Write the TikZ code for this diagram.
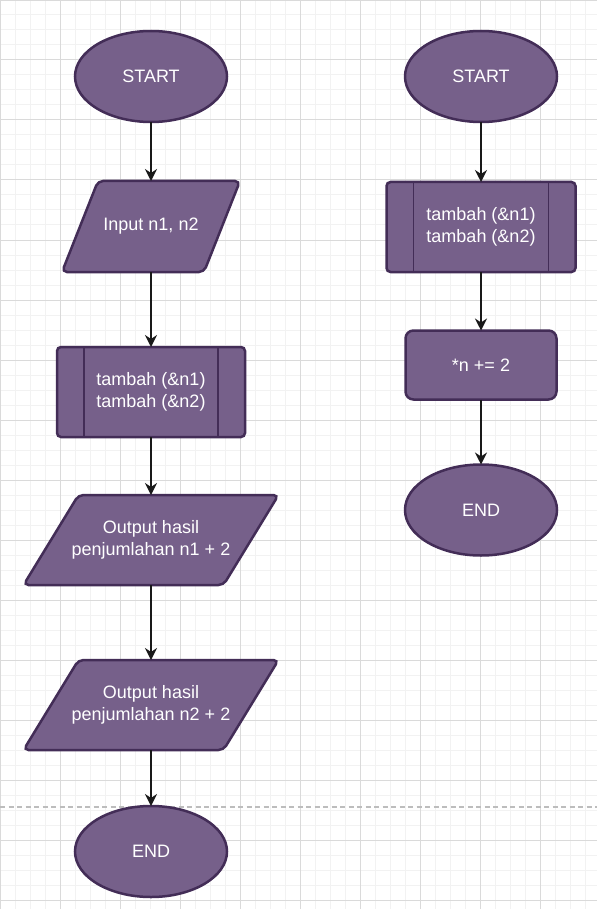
\documentclass[tikz,border=0pt]{standalone}
\usepackage{fontspec}
\setmainfont{Liberation Sans}
\usetikzlibrary{arrows.meta,shapes.geometric}
\definecolor{pfill}{HTML}{76608A}
\definecolor{pline}{HTML}{432D57}
\definecolor{gminor}{HTML}{F2F2F2}
\definecolor{gmajor}{HTML}{DADADA}
\definecolor{dashgray}{HTML}{BDBDBD}
\pgfdeclarelayer{gridlayer}
\pgfdeclarelayer{shapelayer}
\pgfsetlayers{gridlayer,shapelayer,main}
\newcommand\drawpara[2]{%
  \begin{pgfonlayer}{shapelayer}
    \draw[paraline] ([xshift=#2]#1.north west) -- (#1.north east) -- ([xshift=-#2]#1.south east) -- (#1.south west) -- cycle;
  \end{pgfonlayer}}
\newcommand\drawbars[1]{%
  \draw[innerline] ([xshift=27pt]#1.north west) -- ([xshift=27pt]#1.south west);
  \draw[innerline] ([xshift=-27pt]#1.north east) -- ([xshift=-27pt]#1.south east);}
\begin{document}
\begin{tikzpicture}[x=1pt,y=-1pt,
  base/.style={text=white, font=\fontsize{18}{21.6}\selectfont, align=center, inner sep=0pt, outer sep=0pt},
  terminal/.style={base, ellipse, draw=pline, fill=pfill, line width=2.5pt, minimum width=152pt, minimum height=91pt},
  iobox/.style={base, rectangle, minimum height=91pt},
  paraline/.style={draw=pline, fill=pfill, line width=2.5pt, rounded corners=5pt},
  procbox/.style={base, rectangle, rounded corners=4pt, draw=pline, fill=pfill, line width=2.5pt, minimum height=90pt},
  innerline/.style={draw=pline, line width=1.5pt},
  stepbox/.style={base, rectangle, rounded corners=8pt, draw=pline, fill=pfill, line width=2.5pt, minimum width=151pt, minimum height=69pt},
  arrow/.style={draw=black!90, line width=1.5pt, -{Stealth[length=12pt,width=12pt,inset=4pt]}},
]
\useasboundingbox (0,0) rectangle (597,909);
\begin{pgfonlayer}{gridlayer}
  \fill[white] (0,0) rectangle (597,909);
  \draw[gminor, line width=1pt] (0,0) grid[step=15pt] (597,909);
  \draw[gmajor, line width=1pt] (0,0) grid[step=60pt] (597,909);
  \draw[dashgray, line width=1.5pt, dash pattern=on 5pt off 3.5pt] (0,807) -- (597,807);
\end{pgfonlayer}

% left flow
\node[terminal] (ls) at (151,76.5) {START};
\node[iobox, minimum width=178pt] (lin) at (151,226.5) {Input n1, n2};
\drawpara{lin}{36pt}
\node[procbox, minimum width=188pt] (lpp) at (151,392) {tambah (\&n1)\\tambah (\&n2)};
\drawbars{lpp}
\node[iobox, minimum width=255pt, minimum height=90pt] (lo1) at (151,540) {Output hasil\\penjumlahan n1 + 2};
\drawpara{lo1}{55pt}
\node[iobox, minimum width=255pt, minimum height=90pt] (lo2) at (151,705) {Output hasil\\penjumlahan n2 + 2};
\drawpara{lo2}{55pt}
\node[terminal] (le) at (151,851.5) {END};

\draw[arrow] (ls.south) -- (lin.north);
\draw[arrow] (lin.south) -- (lpp.north);
\draw[arrow] (lpp.south) -- (lo1.north);
\draw[arrow] (lo1.south) -- (lo2.north);
\draw[arrow] (lo2.south) -- (le.north);

% right flow
\node[terminal] (rs) at (481,76.5) {START};
\node[procbox, minimum width=189pt] (rpp) at (481,227) {tambah (\&n1)\\tambah (\&n2)};
\drawbars{rpp}
\node[stepbox] (rst) at (481,365) {*n += 2};
\node[terminal] (re) at (481,510) {END};

\draw[arrow] (rs.south) -- (rpp.north);
\draw[arrow] (rpp.south) -- (rst.north);
\draw[arrow] (rst.south) -- (re.north);
\end{tikzpicture}
\end{document}
